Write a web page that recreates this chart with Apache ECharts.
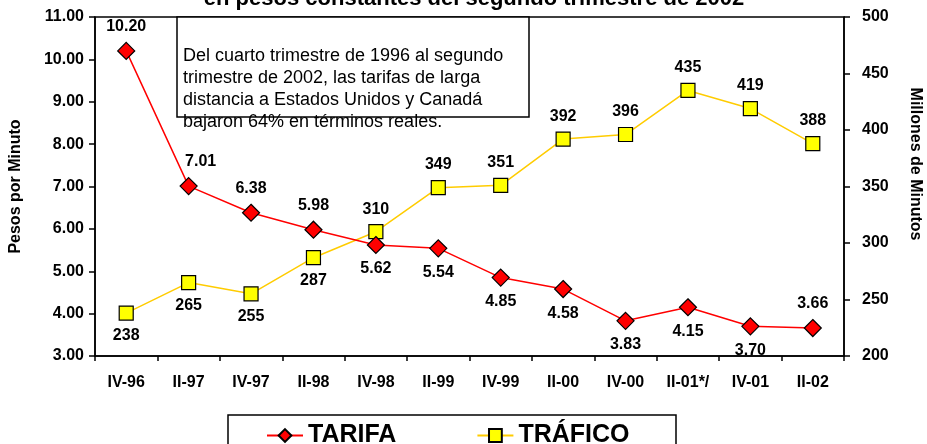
<!DOCTYPE html>
<html>
<head>
<meta charset="utf-8">
<script src="https://cdn.jsdelivr.net/npm/echarts@6/dist/echarts.min.js"></script>
<style>
html, body { margin: 0; padding: 0; background: #fff; }
#main { width: 927px; height: 444px; }
</style>
</head>
<body>
<div id="main"></div>
<script>
var categories = ['IV-96', 'II-97', 'IV-97', 'II-98', 'IV-98', 'II-99', 'IV-99', 'II-00', 'IV-00', 'II-01*/', 'IV-01', 'II-02'];
var tarifa = [10.20, 7.01, 6.38, 5.98, 5.62, 5.54, 4.85, 4.58, 3.83, 4.15, 3.70, 3.66];
var trafico = [238, 265, 255, 287, 310, 349, 351, 392, 396, 435, 419, 388];

// where each value label sits (style only)
var tarifaLabelPos = ['top', 'top', 'top', 'top', 'bottom', 'bottom', 'bottom', 'bottom', 'bottom', 'bottom', 'bottom', 'top'];
var traficoLabelPos = ['bottom', 'bottom', 'bottom', 'bottom', 'top', 'top', 'top', 'top', 'top', 'top', 'top', 'top'];

var FONT = '"Liberation Sans", Arial, sans-serif';
var chart = echarts.init(document.getElementById('main'));

function labelStyle(fmt) {
	return {
		show: true,
		fontFamily: FONT,
		fontWeight: 'bold',
		fontSize: 16,
		color: '#000',
		distance: 7,
		formatter: fmt
	};
}

function withLabels(values, positions, nudge) {
	return values.map(function(v, i) {
		var lab = { position: positions[i] };
		if (nudge && nudge[i]) {
			lab.offset = nudge[i];
		}
		return { value: v, label: lab };
	});
}

var axisFont = { fontFamily: FONT, fontWeight: 'bold', fontSize: 16, color: '#000' };

var option = {
	backgroundColor: '#fff',
	animation: false,
	textStyle: { fontFamily: FONT },
	grid: {
		left: 95,
		right: 83,
		top: 17,
		bottom: 88,
		show: true,
		borderColor: '#000',
		borderWidth: 1.5,
		backgroundColor: 'transparent'
	},
	legend: {
		left: 261,
		top: 418,
		itemGap: 80,
		itemWidth: 36,
		itemHeight: 16,
		textStyle: { fontFamily: FONT, fontWeight: 'bold', fontSize: 25, color: '#000' },
		data: ['TARIFA', 'TRÁFICO']
	},
	xAxis: {
		type: 'category',
		data: categories,
		boundaryGap: true,
		axisLine: { lineStyle: { color: '#000', width: 1.5 } },
		axisTick: { show: true, length: 5, lineStyle: { color: '#000', width: 1.5 } },
		axisLabel: Object.assign({ margin: 19 }, axisFont),
		splitLine: { show: false }
	},
	yAxis: [{
		type: 'value',
		min: 3,
		max: 11,
		interval: 1,
		position: 'left',
		name: 'Pesos por Minuto',
		nameLocation: 'middle',
		nameGap: 71,
		nameTextStyle: { fontFamily: FONT, fontWeight: 'bold', fontSize: 16, color: '#000' },
		axisLine: { show: true, lineStyle: { color: '#000', width: 1.5 } },
		axisTick: { show: true, length: 6, lineStyle: { color: '#000', width: 1.5 } },
		axisLabel: Object.assign({
			margin: 11,
			formatter: function(v) { return v.toFixed(2); }
		}, axisFont),
		splitLine: { show: false }
	}, {
		type: 'value',
		min: 200,
		max: 500,
		interval: 50,
		position: 'right',
		axisLine: { show: true, lineStyle: { color: '#000', width: 1.5 } },
		axisTick: { show: true, length: 6, lineStyle: { color: '#000', width: 1.5 } },
		axisLabel: Object.assign({ margin: 18 }, axisFont),
		splitLine: { show: false }
	}],
	series: [{
		name: 'TARIFA',
		type: 'line',
		yAxisIndex: 0,
		data: withLabels(tarifa, tarifaLabelPos, { 1: [12, 0] }),
		symbol: 'diamond',
		symbolSize: 17,
		lineStyle: { color: '#FF0000', width: 1.5 },
		itemStyle: { color: '#FF0000', borderColor: '#000', borderWidth: 1.2 },
		label: labelStyle(function(p) { return p.value.toFixed(2); }),
		z: 3
	}, {
		name: 'TRÁFICO',
		type: 'line',
		yAxisIndex: 1,
		data: withLabels(trafico, traficoLabelPos),
		symbol: 'rect',
		symbolSize: 14,
		lineStyle: { color: '#FFCC00', width: 1.5 },
		itemStyle: { color: '#FFFF00', borderColor: '#000', borderWidth: 1.2 },
		label: labelStyle('{c}'),
		z: 2
	}],
	graphic: [{
		type: 'text',
		x: 474,
		y: -12,
		style: {
			text: 'en pesos constantes del segundo trimestre de 2002',
			font: 'bold 22px ' + FONT,
			fill: '#000',
			align: 'center'
		}
	}, {
		type: 'text',
		x: 915,
		y: 164,
		rotation: -Math.PI / 2,
		style: {
			text: 'Millones de Minutos',
			font: 'bold 16px ' + FONT,
			fill: '#000',
			align: 'center',
			verticalAlign: 'middle'
		}
	}, {
		type: 'rect',
		shape: { x: 177, y: 17, width: 352, height: 100 },
		style: { fill: '#fff', stroke: '#000', lineWidth: 1.5 },
		z: 10
	}, {
		type: 'text',
		x: 183,
		y: 45,
		style: {
			text: 'Del cuarto trimestre de 1996 al segundo\ntrimestre de 2002, las tarifas de larga\ndistancia a Estados Unidos y Canadá\nbajaron 64% en términos reales.',
			font: '18px ' + FONT,
			lineHeight: 22,
			fill: '#000'
		},
		z: 11
	}, {
		type: 'rect',
		shape: { x: 228, y: 415, width: 448, height: 40 },
		style: { fill: 'transparent', stroke: '#000', lineWidth: 1.5 },
		z: 1
	}]
};

chart.setOption(option);
</script>
</body>
</html>
